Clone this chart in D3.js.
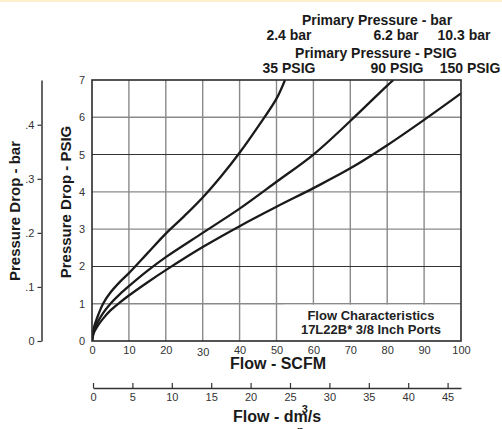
<!DOCTYPE html>
<html>
<head>
<meta charset="utf-8">
<script src="https://cdn.jsdelivr.net/npm/d3@7"></script>
<style>
  body { margin: 0; background: #fff; }
  svg { display: block; font-family: "Liberation Sans", Arial, sans-serif; }
</style>
</head>
<body>
<div id="wrapper"></div>
<script>
// flow (SCFM) vs pressure drop (PSIG)
const flow35 = [0, 0.5, 1.5, 3, 5, 7.5, 10, 15, 20, 25, 30, 35, 40, 45, 50, 52.3];
const drop35 = [0, 0.35, 0.65, 1.0, 1.3, 1.58, 1.82, 2.35, 2.88, 3.35, 3.85, 4.42, 5.05, 5.75, 6.5, 7.0];
const flow90 = [0, 0.5, 1.5, 3, 5, 7.5, 10, 15, 20, 30, 40, 50, 60, 70, 80, 81.7];
const drop90 = [0, 0.28, 0.5, 0.75, 1.0, 1.25, 1.47, 1.88, 2.25, 2.9, 3.55, 4.27, 5.0, 5.9, 6.85, 7.0];
const flow150 = [0, 0.5, 1.5, 3, 5, 7.5, 10, 15, 20, 30, 40, 50, 60, 70, 80, 90, 100];
const drop150 = [0, 0.22, 0.4, 0.6, 0.82, 1.03, 1.22, 1.57, 1.9, 2.52, 3.08, 3.6, 4.1, 4.63, 5.25, 5.93, 6.64];

const psigTicks = [0, 1, 2, 3, 4, 5, 6, 7];
const barTicks = [0, 0.1, 0.2, 0.3, 0.4];
const scfmTicks = [0, 10, 20, 30, 40, 50, 60, 70, 80, 90, 100];
const dm3Ticks = [0, 5, 10, 15, 20, 25, 30, 35, 40, 45];
const barLabels = ["2.4 bar", "6.2 bar", "10.3 bar"];
const psigLabels = ["35 PSIG", "90 PSIG", "150 PSIG"];

const width = 502, height = 429;
const plot = { left: 92, right: 461, top: 80, bottom: 341 };

const svg = d3.select("#wrapper").append("svg")
    .attr("width", width)
    .attr("height", height);

svg.append("rect")
    .attr("x", 0).attr("y", 0)
    .attr("width", width).attr("height", 2)
    .attr("fill", "#fdefcc");

const xScale = d3.scaleLinear().domain([0, 100]).range([plot.left, plot.right]);
const yScale = d3.scaleLinear().domain([0, 7]).range([plot.bottom, plot.top]);
const yBar = d3.scaleLinear().domain([0, 7 / 14.5]).range([plot.bottom, plot.top]);
const xDm = d3.scaleLinear().domain([0, 46.7]).range([plot.left + 1, plot.right]);

// grid
const grid = svg.append("g");
grid.selectAll(".vline")
    .data(scfmTicks.slice(1, -1))
    .enter().append("line")
    .attr("x1", d => xScale(d)).attr("x2", d => xScale(d))
    .attr("y1", plot.top).attr("y2", plot.bottom)
    .attr("stroke", "#8a8a8a")
    .attr("stroke-width", 1.4);

grid.selectAll(".hline")
    .data(psigTicks.slice(1, -1))
    .enter().append("line")
    .attr("x1", plot.left).attr("x2", plot.right)
    .attr("y1", d => yScale(d)).attr("y2", d => yScale(d))
    .attr("stroke", d => (d == 2 || d == 5) ? "#333" : "#8a8a8a")
    .attr("stroke-width", d => (d == 2 || d == 5) ? 1.1 : 1.4);

// curves
svg.append("clipPath").attr("id", "clip")
    .append("rect")
    .attr("x", plot.left).attr("y", plot.top)
    .attr("width", plot.right - plot.left).attr("height", plot.bottom - plot.top);

const line = d3.line()
    .x(d => xScale(d[0]))
    .y(d => yScale(d[1]))
    .curve(d3.curveCatmullRom.alpha(0.5));

const series = [
    d3.zip(flow35, drop35),
    d3.zip(flow90, drop90),
    d3.zip(flow150, drop150)
];

svg.append("g").attr("clip-path", "url(#clip)")
    .selectAll("path")
    .data(series)
    .enter().append("path")
    .attr("d", line)
    .attr("fill", "none")
    .attr("stroke", "#1a1a1a")
    .attr("stroke-width", 2.3);

// legend box
svg.append("rect")
    .attr("x", 284).attr("y", yScale(1) + 1)
    .attr("width", plot.right - 284).attr("height", plot.bottom - yScale(1) - 1)
    .attr("fill", "#fff");

svg.append("text")
    .attr("x", 371).attr("y", 320)
    .attr("text-anchor", "middle")
    .attr("font-size", "13px").attr("font-weight", "bold")
    .attr("fill", "#222")
    .text("Flow Characteristics");
svg.append("text")
    .attr("x", 371).attr("y", 334)
    .attr("text-anchor", "middle")
    .attr("font-size", "13px").attr("font-weight", "bold")
    .attr("fill", "#222")
    .text("17L22B* 3/8 Inch Ports");

// frame
svg.append("rect")
    .attr("x", plot.left).attr("y", plot.top)
    .attr("width", plot.right - plot.left).attr("height", plot.bottom - plot.top)
    .attr("fill", "none")
    .attr("stroke", "#2a2a2a")
    .attr("stroke-width", 1.6);

// PSIG axis
const psigAxis = svg.append("g")
    .attr("transform", `translate(${plot.left},0)`)
    .call(d3.axisLeft(yScale).tickValues(psigTicks).tickSize(0).tickPadding(7).tickFormat(d3.format("d")));
psigAxis.select(".domain").remove();
psigAxis.selectAll("text").attr("font-size", "11px").attr("fill", "#333").attr("font-family", null);

// bar axis
const barAxis = svg.append("g")
    .attr("transform", "translate(41.5,0)")
    .call(d3.axisLeft(yBar).tickValues(barTicks).tickSizeInner(4).tickSizeOuter(0).tickPadding(3)
        .tickFormat(d => d == 0 ? "0" : d3.format(".1f")(d).replace("0.", ".")));
barAxis.select(".domain").attr("stroke", "#333").attr("stroke-width", 1.5);
barAxis.selectAll("line").attr("stroke", "#333").attr("stroke-width", 1.2);
barAxis.selectAll("text").attr("font-size", "11px").attr("fill", "#333").attr("font-family", null);

// SCFM axis
const scfmAxis = svg.append("g")
    .attr("transform", `translate(0,${plot.bottom})`)
    .call(d3.axisBottom(xScale).tickValues(scfmTicks).tickSize(0).tickPadding(5));
scfmAxis.select(".domain").remove();
scfmAxis.selectAll("text")
    .attr("font-size", "11px").attr("fill", "#333").attr("font-family", null)
    .attr("dy", d => d == 30 ? "0.95em" : "0.71em");

// dm3/s axis
const dmAxis = svg.append("g")
    .attr("transform", "translate(0,388)")
    .call(d3.axisBottom(xDm).tickValues(dm3Ticks).tickSizeInner(-5).tickSizeOuter(0).tickPadding(5));
dmAxis.select(".domain").attr("stroke", "#333").attr("stroke-width", 1.5);
dmAxis.selectAll("line").attr("stroke", "#333").attr("stroke-width", 1.2);
dmAxis.selectAll("text").attr("font-size", "11px").attr("fill", "#333").attr("font-family", null);

// axis titles
svg.append("text")
    .attr("x", 278).attr("y", 369)
    .attr("text-anchor", "middle")
    .attr("font-size", "16px").attr("font-weight", "bold")
    .attr("fill", "#1a1a1a")
    .text("Flow - SCFM");

const dmTitle = svg.append("text")
    .attr("x", 233).attr("y", 422)
    .attr("font-size", "16px").attr("font-weight", "bold")
    .attr("fill", "#1a1a1a");
dmTitle.append("tspan").text("Flow - dm");
dmTitle.append("tspan").attr("font-size", "11px").attr("dx", -6).attr("dy", -9).text("3");
dmTitle.append("tspan").attr("dy", 9).text("/s");
svg.append("text")
    .attr("x", 297).attr("y", 434)
    .attr("font-size", "11px").attr("font-weight", "bold")
    .attr("fill", "#1a1a1a")
    .text("n");

svg.append("text")
    .attr("transform", "translate(71,202) rotate(-90)")
    .attr("text-anchor", "middle")
    .attr("font-size", "15px").attr("font-weight", "bold")
    .attr("fill", "#1a1a1a")
    .text("Pressure Drop - PSIG");

svg.append("text")
    .attr("transform", "translate(20,211) rotate(-90)")
    .attr("text-anchor", "middle")
    .attr("font-size", "15px").attr("font-weight", "bold")
    .attr("fill", "#1a1a1a")
    .text("Pressure Drop - bar");

// primary pressure headers
const header = svg.append("g")
    .attr("font-size", "14px").attr("font-weight", "bold")
    .attr("fill", "#1a1a1a")
    .attr("text-anchor", "middle");
header.append("text").attr("x", 377).attr("y", 25).text("Primary Pressure - bar");
header.append("text").attr("x", 376).attr("y", 58).text("Primary Pressure - PSIG");
const headerX = [289, 396, 464];
const headerX2 = [289, 397, 470];
header.selectAll(".bar").data(barLabels).enter().append("text")
    .attr("x", (d, i) => headerX[i]).attr("y", 40).text(d => d);
header.selectAll(".psig").data(psigLabels).enter().append("text")
    .attr("x", (d, i) => headerX2[i]).attr("y", 73).text(d => d);
</script>
</body>
</html>
